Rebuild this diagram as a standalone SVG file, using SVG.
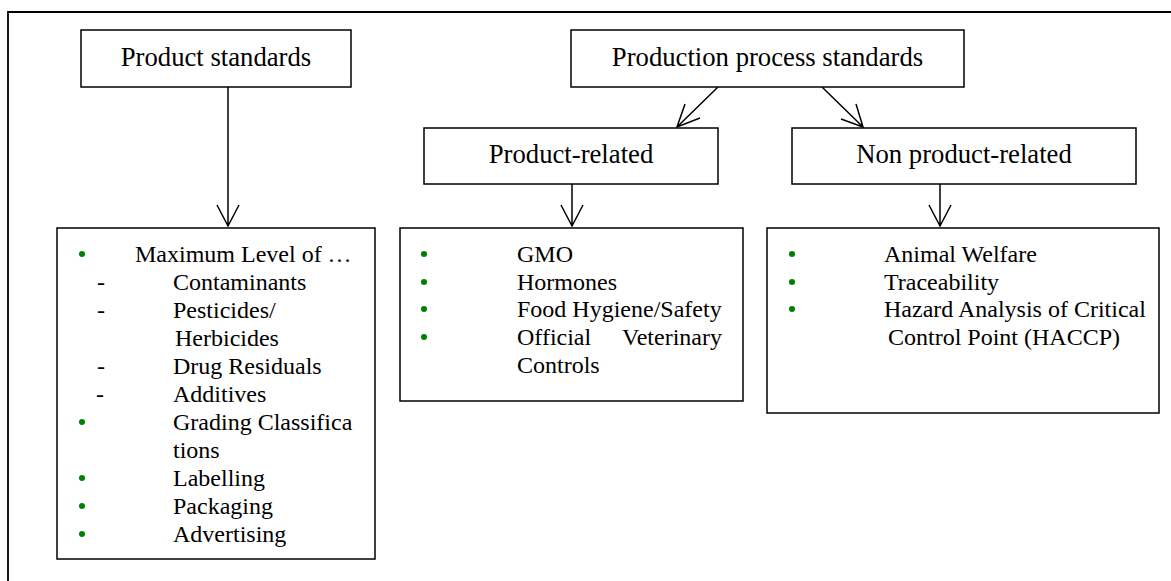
<svg xmlns="http://www.w3.org/2000/svg" width="1171" height="581" viewBox="0 0 1171 581">
<style>
.box{fill:#fff;stroke:#000;stroke-width:1.5}
.t{font-family:"Liberation Serif","Times New Roman",serif;fill:#000}
.h{font-size:26.7px;text-anchor:middle}
.l{font-size:24px}
.b{fill:#008000}
.c{stroke:#000;stroke-width:1.5;fill:none}
</style>
<rect width="1171" height="581" fill="#fff"/>
<path d="M8,581 V12 H1171" fill="none" stroke="#000" stroke-width="1.8"/>
<g id="connectors">
<path class="c" d="M228,87 V226 M217,205 L228,226 L239,205"/>
<path class="c" d="M718,87 L677,127 M685,104 L677,127 L700,118"/>
<path class="c" d="M822,87 L863,127 M856,104 L863,127 L841,119"/>
<path class="c" d="M572,184 V226 M561,205 L572,226 L583,205"/>
<path class="c" d="M940,184 V226 M929,205 L940,226 L951,205"/>
</g>
<g id="product-standards">
<rect class="box" x="81" y="30" width="270" height="57"/>
<text class="t h" x="216" y="66">Product standards</text>
</g>
<g id="production-process-standards">
<rect class="box" x="571" y="30" width="393" height="57"/>
<text class="t h" x="767.5" y="66">Production process standards</text>
</g>
<g id="product-related">
<rect class="box" x="424" y="128" width="294" height="56"/>
<text class="t h" x="571" y="163">Product-related</text>
</g>
<g id="non-product-related">
<rect class="box" x="792" y="128" width="344" height="56"/>
<text class="t h" x="964" y="163">Non product-related</text>
</g>
<g id="product-list">
<rect class="box" x="57" y="228" width="318" height="331"/>
<circle class="b" cx="82" cy="254" r="3"/>
<circle class="b" cx="82" cy="422" r="3"/>
<circle class="b" cx="82" cy="478" r="3"/>
<circle class="b" cx="82" cy="506" r="3"/>
<circle class="b" cx="82" cy="534" r="3"/>
<text class="t l" x="97" y="290">-</text>
<text class="t l" x="97" y="318">-</text>
<text class="t l" x="97" y="374">-</text>
<text class="t l" x="96" y="402">-</text>
<text class="t l" x="135" y="262">Maximum Level of …</text>
<text class="t l" x="173" y="290">Contaminants</text>
<text class="t l" x="173" y="318">Pesticides/</text>
<text class="t l" x="175" y="346">Herbicides</text>
<text class="t l" x="173" y="374">Drug Residuals</text>
<text class="t l" x="173" y="402">Additives</text>
<text class="t l" x="173" y="430">Grading Classifica</text>
<text class="t l" x="173" y="458">tions</text>
<text class="t l" x="173" y="486">Labelling</text>
<text class="t l" x="173" y="514">Packaging</text>
<text class="t l" x="173" y="542">Advertising</text>
</g>
<g id="product-related-list">
<rect class="box" x="400" y="228" width="343" height="173"/>
<circle class="b" cx="424" cy="254" r="3"/>
<circle class="b" cx="424" cy="282" r="3"/>
<circle class="b" cx="424" cy="309" r="3"/>
<circle class="b" cx="424" cy="337" r="3"/>
<text class="t l" x="517" y="262">GMO</text>
<text class="t l" x="517" y="290">Hormones</text>
<text class="t l" x="517" y="317">Food Hygiene/Safety</text>
<text class="t l" x="517" y="345">Official</text>
<text class="t l" x="722" y="345" text-anchor="end">Veterinary</text>
<text class="t l" x="517" y="373">Controls</text>
</g>
<g id="non-product-related-list">
<rect class="box" x="767" y="228" width="392" height="185"/>
<circle class="b" cx="792" cy="254" r="3"/>
<circle class="b" cx="792" cy="282" r="3"/>
<circle class="b" cx="792" cy="309" r="3"/>
<text class="t l" x="884" y="262">Animal Welfare</text>
<text class="t l" x="884" y="290">Traceability</text>
<text class="t l" x="884" y="317">Hazard Analysis of Critical</text>
<text class="t l" x="888" y="345">Control Point (HACCP)</text>
</g>
</svg>
